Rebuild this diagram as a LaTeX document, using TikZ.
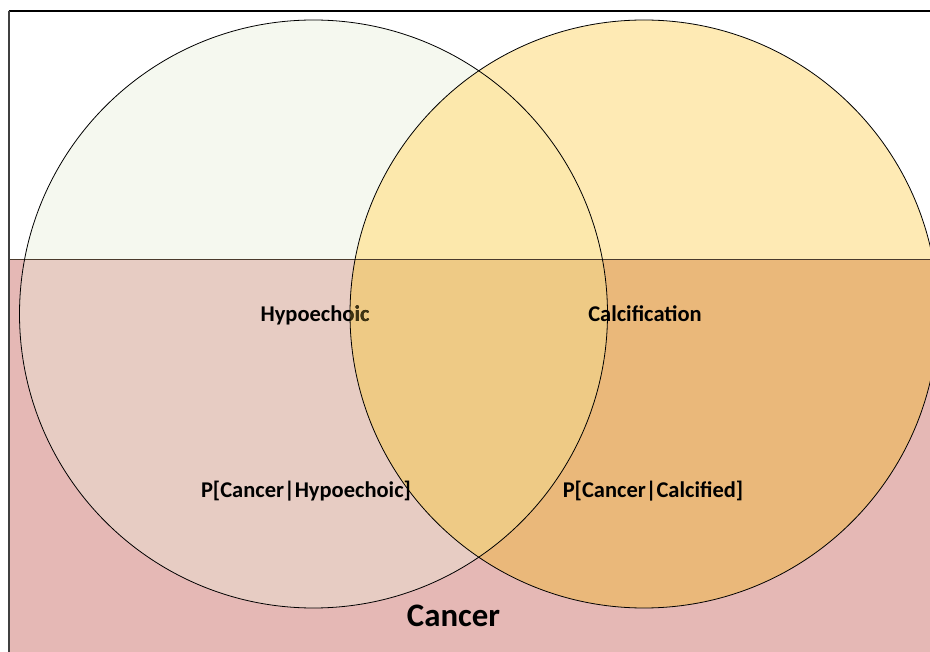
\documentclass[tikz,border=0pt]{standalone}
\usepackage{fontspec}
\setmainfont{Carlito}
\definecolor{cancerbg}{HTML}{E5B8B5}
\definecolor{hypotop}{HTML}{F5F8EF}
\definecolor{hypobot}{HTML}{E7CCC3}
\definecolor{calctop}{HTML}{FEEAB4}
\definecolor{calcbot}{HTML}{EAB87A}
\definecolor{bothtop}{HTML}{FCE8AC}
\definecolor{bothbot}{HTML}{EECA85}
\definecolor{shadedtext}{HTML}{3E3412}
\definecolor{bandline}{HTML}{4A3A2C}
\begin{document}
\begin{tikzpicture}[x=1pt,y=-1pt,
  label/.style={font=\bfseries\fontsize{22.5}{27}\selectfont, inner sep=0pt, anchor=base},
  biglabel/.style={font=\bfseries\fontsize{32.8}{38}\selectfont, inner sep=0pt, anchor=base},
  outline/.style={draw=black, line width=0.8pt}]
\useasboundingbox (0,0) rectangle (930,652);

\coordinate (L) at (313.5,314);
\coordinate (R) at (644,314);
\def\rad{294pt}

% cancer band
\fill[cancerbg] (10,259) rectangle (930,652);

% hypoechoic circle, split at the cancer band
\begin{scope}
  \clip (L) circle (\rad);
  \fill[hypotop] (0,0) rectangle (930,259);
  \fill[hypobot] (0,259) rectangle (930,652);
\end{scope}

% calcification circle
\begin{scope}
  \clip (R) circle (\rad);
  \fill[calctop] (0,0) rectangle (940,259);
  \fill[calcbot] (0,259) rectangle (940,652);
\end{scope}

% overlap of the two circles
\begin{scope}
  \clip (L) circle (\rad);
  \clip (R) circle (\rad);
  \fill[bothtop] (0,0) rectangle (940,259);
  \fill[bothbot] (0,259) rectangle (940,652);
\end{scope}

% labels
\node[label] (hypo) at (315,322) {Hypoechoic};
\begin{scope}
  \clip (R) circle (\rad);
  \node[label, text=shadedtext] at (315,322) {Hypoechoic};
\end{scope}
\node[label] (calc) at (645,322) {Calcification};
\node[label] (phypo) at (306,497) {P[Cancer|Hypoechoic]};
\node[label] (pcalc) at (653,497) {P[Cancer|Calcified]};
\node[biglabel] (cancer) at (453.5,626) {Cancer};

% band edge and frame
\draw[bandline, line width=0.9pt] (10,259) -- (930,259);
\draw[outline] (L) circle (\rad);
\draw[outline] (R) circle (\rad);
\draw[black, line width=1.2pt] (8.6,11) -- (930,11);
\draw[black!75, line width=1.5pt] (9,11) -- (9,652);
\end{tikzpicture}
\end{document}
